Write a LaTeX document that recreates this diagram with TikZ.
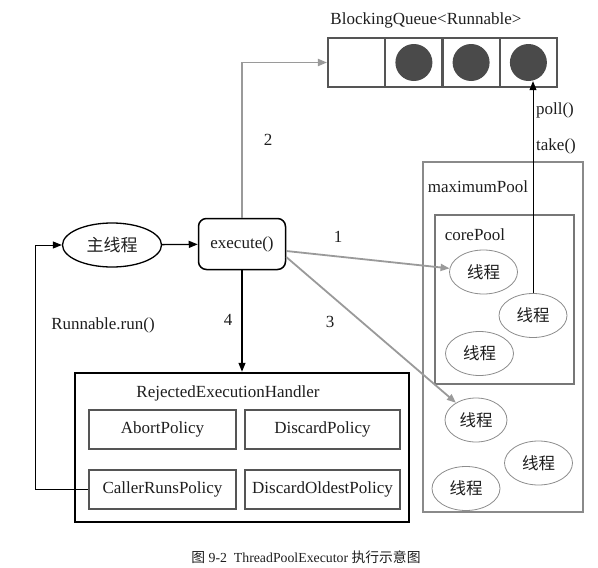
\documentclass[tikz,border=0pt]{standalone}
\usepackage{fontspec}
\setmainfont{Liberation Serif}
\newfontfamily\cjk{Noto Sans CJK SC}
\usetikzlibrary{arrows.meta,shapes.geometric}
\definecolor{txt}{HTML}{1E1E1E}
\definecolor{arrowgray}{HTML}{9A9A9A}
\definecolor{poolgray}{HTML}{8A8A8A}
\definecolor{boxgray}{HTML}{555555}
\definecolor{dotgray}{HTML}{4A4A4A}
\definecolor{threadgray}{HTML}{8C8C8C}
\begin{document}
\begin{tikzpicture}[x=1pt,y=-1pt, font=\fontsize{17}{19}\selectfont, text=txt,
  garrow/.style={draw=arrowgray, line width=1.8pt, -{Triangle[length=9pt,width=7pt]}},
  barrow/.style={draw=black, line width=1.3pt, -{Triangle[length=9pt,width=7pt]}},
  thread/.style={ellipse, draw=threadgray, line width=0.8pt, minimum width=68pt, minimum height=44pt, inner sep=0pt, font=\cjk\fontsize{16.5}{18}\selectfont},
  policy/.style={draw=boxgray, line width=2pt, minimum height=39pt, inner sep=0pt},
  cell/.style={draw=boxgray, line width=2pt, minimum width=57.25pt, minimum height=49pt, inner sep=0pt},
  dot/.style={circle, fill=dotgray, minimum size=37pt, inner sep=0pt},
  lbl/.style={inner sep=1pt}]
\useasboundingbox (0,0) rectangle (598,568);
% queue
\node[lbl] (qlabel) at (426,20) {BlockingQueue<Runnable>};
\node[cell] (q1) at (356.6,62.5) {};
\node[cell] (q2) at (413.9,62.5) {};
\node[cell] (q3) at (471.1,62.5) {};
\node[cell] (q4) at (528.4,62.5) {};
\node[dot] (c2) at (q2) {};
\node[dot] (c3) at (q3) {};
\node[dot] (c4) at (q4) {};
% main & execute
\node[ellipse, draw=black, line width=1.3pt, minimum width=99pt, minimum height=44pt, inner sep=0pt, font=\cjk\fontsize{17}{18}\selectfont] (main) at (112,245) {主线程};
\node[draw=black, line width=1.5pt, rounded corners=8pt, minimum width=87pt, minimum height=51pt, inner sep=0pt] (exec) at (242,244) {execute()};
% pools
\node[draw=poolgray, line width=2.8pt, minimum width=160pt, minimum height=350pt, inner sep=0pt] (maxpool) at (503,337) {};
\node[lbl] (maxlabel) at (478,187) {maximumPool};
\node[draw=boxgray!80, line width=2.4pt, minimum width=139pt, minimum height=169pt, inner sep=0pt] (corepool) at (504.5,299.5) {};
\node[lbl] (corelabel) at (475,235) {corePool};
\node[thread] (t1) at (483.5,272) {线程};
\node[thread] (t2) at (533,315.5) {线程};
\node[thread] (t3) at (479.5,353.5) {线程};
\node[thread, minimum width=62pt] (t4) at (476,420) {线程};
\node[thread] (t5) at (538.5,463) {线程};
\node[thread] (t6) at (466,488.5) {线程};
% handler
\node[draw=black, line width=2.5pt, minimum width=334pt, minimum height=149pt, inner sep=0pt] (handler) at (242,447.5) {};
\node[lbl] (hlabel) at (228,393) {RejectedExecutionHandler};
\node[policy, minimum width=147pt] (abort) at (162.5,429.5) {AbortPolicy};
\node[policy, minimum width=155pt] (discard) at (322.5,429.5) {DiscardPolicy};
\node[policy, minimum width=147pt] (caller) at (162.5,489.5) {CallerRunsPolicy};
\node[policy, minimum width=155pt] (oldest) at (322.5,489.5) {DiscardOldestPolicy};
% labels
\node[lbl] (n1) at (338,237) {1};
\node[lbl] (n2) at (268,140) {2};
\node[lbl] (n3) at (330,322) {3};
\node[lbl] (n4) at (228,320) {4};
\node[lbl] (runlabel) at (103,325) {Runnable.run()};
\node[lbl] (poll) at (555,110) {poll()};
\node[lbl] (take) at (556,146) {take()};
\node[lbl, font=\fontsize{13.8}{15}\selectfont] (caption) at (306,557) {{\cjk 图} 9-2\enspace ThreadPoolExecutor {\cjk 执行示意图}};
% connectors
\coordinate (lp) at (35,489.5);
\draw[draw=black, line width=0.9pt, -{Triangle[length=9pt,width=7pt]}] (caller.west) -- (lp) |- (main.west);
\draw[barrow] (main) -- (exec);
\draw[garrow] (exec.north) |- (q1.west);
\draw[garrow] ([yshift=-7pt]exec.east) -- (t1);
\draw[garrow] ([yshift=-13pt]exec.east) -- (t4);
\draw[barrow] (exec.south) -- (handler.north -| exec.south);
\draw[draw=black, line width=0.9pt, -{Triangle[length=9pt,width=7pt]}] (t2.north) -- (t2.north |- c4.south);
\end{tikzpicture}
\end{document}
